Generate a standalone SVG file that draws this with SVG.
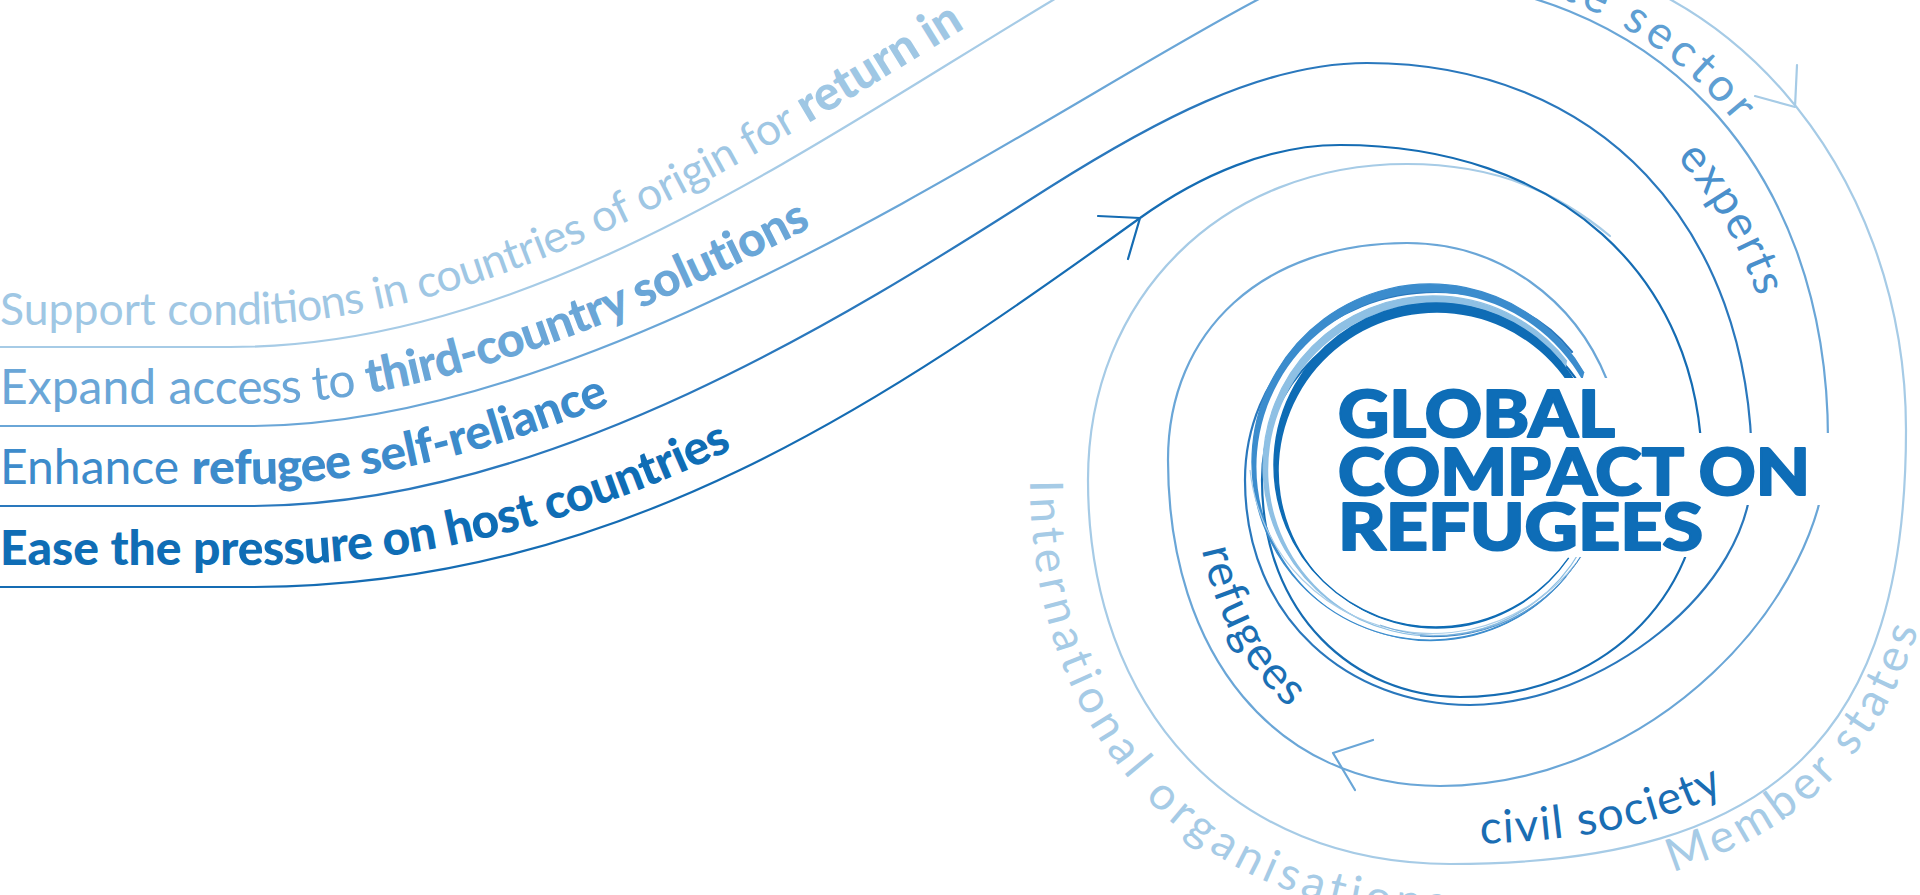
<svg xmlns="http://www.w3.org/2000/svg" width="1920" height="895" viewBox="0 0 1920 895">
<style>
.ln{fill:none;stroke-width:2.2;stroke-linecap:round;stroke-linejoin:round}
.c1{stroke:#a6cbe6}.c2{stroke:#6aa6d7}.c3{stroke:#2a78bd}.c4{stroke:#156cb3}
.tx{font-family:Lato,'Liberation Sans',sans-serif;font-size:48px}
.f1{fill:#9fc7e4;font-size:44.5px}.f2{fill:#6aa6d7}.f3{fill:#3d8bcb}.f4{fill:#0f6db5}
.b{font-weight:900}
.lab{font-family:Lato,'Liberation Sans',sans-serif;font-size:46px}
.title{font-family:Lato,'Liberation Sans',sans-serif;font-size:65px;font-weight:900;fill:#0e6db7;stroke:#0e6db7;stroke-width:2;stroke-linejoin:round}
</style>
<defs>
<mask id="gap" maskUnits="userSpaceOnUse" x="0" y="0" width="1920" height="895">
<rect width="1920" height="895" fill="#fff"/>
<rect x="1330" y="378" width="300" height="66" fill="#000"/>
<rect x="1330" y="433" width="540" height="72" fill="#000"/>
<rect x="1330" y="495" width="385" height="62" fill="#000"/>
</mask>
<path id="pSector" d="M1390,-22 C1653,-22 1828,163 1828,440"/>
<path id="pExperts" d="M1367,30 C1618,30 1785,206 1785,470"/>
<path id="pRefugees" d="M1193,400 L1193,460 C1193,640 1290,761 1440,761"/>
<path id="pCivil" d="M1450,844 C1765,844 1886,722 1886,430"/>
<path id="pMember" d="M1440,902 C1800,902 1944,745 1944,430"/>
<path id="pIntl" d="M1030,380 L1030,480 C1030,745 1200,918 1450,918"/>
</defs>

<g id="connectors" mask="url(#gap)">
<path id="p1" class="ln c1" d="M0,347 L230,347 C530,347 803,150 1053,0 C1153,-60 1380,-50 1480,-50 C1720,-50 1906,166 1906,430 C1906,730 1780,864 1450,864 C1233,864 1088,710 1088,480 C1088,297 1222,164 1407,164 C1500,164 1560,195 1610,236"/>
<path id="p2" class="ln c2" d="M0,426 L250,426 C600,426 1030,120 1257,0 C1310,-28 1350,-22 1390,-22 C1653,-22 1828,163 1828,440 C1828,600 1650,786 1440,786 C1277,786 1168,656 1168,460 C1168,330 1264,243 1407,243 C1500,243 1575,300 1607,380"/>
<path id="p3" class="ln c3" d="M0,506 L250,506 C560,506 880,295 1050,187 C1150,124 1260,63 1367,63 C1598,63 1752,226 1752,470 C1752,590 1600,705 1470,705 C1350,705 1245,620 1245,480 C1245,372 1330,292 1436,292 C1500,292 1545,318 1572,352"/>
<path id="p4" class="ln c4" d="M0,587 L250,587 C620,587 890,398 1140,218 C1200,175 1270,145 1340,145 C1557,145 1702,275 1702,470 C1702,600 1600,697 1460,697 C1355,697 1262,615 1262,480 C1262,384 1340,310 1436,310 C1505,310 1555,345 1580,385"/>
<polyline class="ln c1" points="1755,96 1795,107 1797,65"/>
<polyline class="ln c4" points="1098,216 1140,218 1128,259"/>
<polyline class="ln c2" points="1373,740 1333,753 1355,790"/>
</g>

<g id="core" mask="url(#gap)">
<path fill="#3b8ccd" d="M1566.3,576.4 A178,178 0 1 1 1584.1,373 L1582.4,380 A174.5,174.5 0 1 0 1565.3,578 Z"/>
<path fill="#8ec0e4" d="M1580.2,551 A170,170 0 1 1 1567,361.3 L1566,367.5 A166.5,166.5 0 1 0 1579,553 Z"/>
<path fill="#0e6cb5" d="M1568.7,557.9 A162,162 0 1 1 1579.0,388.9 L1576.5,397 A158,158 0 1 0 1566.5,561 Z"/>
<path fill="none" stroke="#0e6cb5" stroke-width="1.4" d="M1568.7,557.9 A162,162 0 1 1 1579.0,388.9"/>
<path fill="none" stroke="#3b8ccd" stroke-width="1.2" d="M1566.3,576.4 A178,178 0 1 1 1584.1,373"/>
<path fill="none" stroke="#8ec0e4" stroke-width="1.2" d="M1580.2,551 A170,170 0 1 1 1567,361.3"/>
<path fill="none" stroke="#a9cde8" stroke-width="1.2" d="M1605,510 A183,183 0 0 1 1250,470"/>
<path fill="none" stroke="#2a78bd" stroke-width="0.9" d="M1590,540 A172,172 0 0 1 1420,636"/>
<path fill="none" stroke="#6aa6d7" stroke-width="0.8" d="M1575,565 A168,168 0 0 1 1380,625"/>
</g>

<g id="title" class="title">
<text x="1338" y="437" textLength="277" lengthAdjust="spacingAndGlyphs">GLOBAL</text>
<text x="1338" y="495" textLength="472" lengthAdjust="spacingAndGlyphs">COMPACT ON</text>
<text x="1338" y="550" textLength="365" lengthAdjust="spacingAndGlyphs">REFUGEES</text>
</g>

<g id="goal-return"><text class="tx f1"><textPath href="#p1"><tspan dy="-22">Support conditions in countries of origin for </tspan><tspan class="b" font-size="48px">return in</tspan></textPath></text></g>
<g id="goal-third-country"><text class="tx f2"><textPath href="#p2"><tspan dy="-22">Expand access to </tspan><tspan class="b" letter-spacing="-0.5">third-country solutions</tspan></textPath></text></g>
<g id="goal-self-reliance"><text class="tx f3"><textPath href="#p3"><tspan dy="-22">Enhance </tspan><tspan class="b">refugee self-reliance</tspan></textPath></text></g>
<g id="goal-ease"><text class="tx f4 b"><textPath href="#p4"><tspan dy="-22">Ease the pressure on host countries</tspan></textPath></text></g>

<g id="label-private-sector"><text class="lab" fill="#5f9fd3" letter-spacing="4.5" text-anchor="end"><textPath href="#pSector" startOffset="388"><tspan dy="-9">Private sector</tspan></textPath></text></g>
<g id="label-experts"><text class="lab" fill="#4a90cc" letter-spacing="2"><textPath href="#pExperts" startOffset="50.5%">experts</textPath></text></g>
<g id="label-refugees"><text class="lab" fill="#1a6fb4" letter-spacing="1.5"><textPath href="#pRefugees" startOffset="150">refugees</textPath></text></g>
<g id="label-civil-society"><text class="lab" fill="#1a6db3" letter-spacing="1.5"><textPath href="#pCivil" startOffset="30">civil society</textPath></text></g>
<g id="label-member-states"><text class="lab" fill="#a6cbe6" letter-spacing="5"><textPath href="#pMember" startOffset="235">Member states</textPath></text></g>
<g id="label-international"><text class="lab" fill="#a6cbe6" letter-spacing="5.5"><textPath href="#pIntl" startOffset="100">International organisations</textPath></text></g>
</svg>
